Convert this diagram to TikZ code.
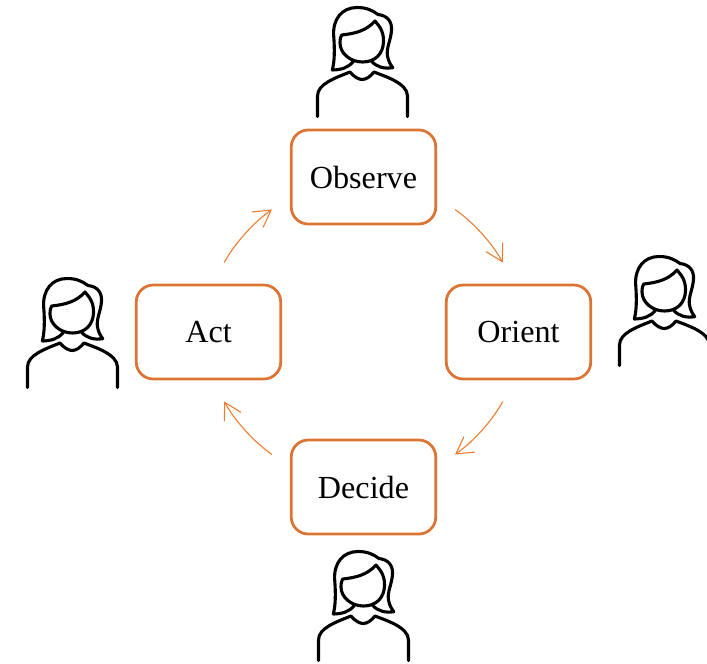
\documentclass[tikz,border=0pt]{standalone}
\usepackage{fontspec}
\setmainfont{Liberation Serif}
\usetikzlibrary{arrows.meta}
\definecolor{boxorange}{HTML}{DC7434}
\definecolor{floworange}{HTML}{ED7D31}
\tikzset{
  stagebox/.style={rectangle,draw=boxorange,line width=.55mm,rounded corners=3.4mm,minimum width=28.9mm,minimum height=18.8mm,inner sep=0pt,font=\fontsize{18.3}{22}\selectfont},
  flow/.style={draw=floworange,line width=.22mm,-{Straight Barb[length=3.3mm,width=3.8mm]},bend left=13},
  person/.pic={
    \draw[black,line width=.62mm,line join=round,line cap=round]
      (32.3,70) .. controls (34.5,62) and (34.8,50) .. (33.7,36) .. controls (32.5,19) and (42,7.5) .. (57,7.5)
      .. controls (66,7.5) and (72,10) .. (78,14.5) .. controls (87,15.5) and (92,21) .. (91.5,30)
      .. controls (91,40) and (86,48) .. (87.5,56) .. controls (88.5,62) and (91,65) .. (92.7,67.7)
      .. controls (84,69) and (77,67) .. (71.7,61.5)
      (32.3,70) .. controls (41,69.8) and (48,68) .. (53.3,61.5)
      (41.7,35) .. controls (55,33.5) and (66,31) .. (75,21) .. controls (78,25) and (84,30) .. (83.5,42)
      .. controls (83,54) and (75,62) .. (62.5,62) .. controls (50,62) and (40,53) .. (40,43)
      .. controls (40,39) and (40.5,37) .. (41.7,35)
      (17.5,116.5) -- (17.5,96) .. controls (17.5,84) and (35,78) .. (50,72)
      .. controls (54,77) and (59,79.5) .. (62,79.5) .. controls (66,79.5) and (70,77) .. (74,72)
      .. controls (84,76) and (107.5,83) .. (107.5,96) -- (107.5,116.5);
  }
}
\begin{document}
\begin{tikzpicture}[x=.2mm,y=-.2mm]
  \useasboundingbox (0,0) rectangle (707,663);
  \node[stagebox] (observe) at (363.5,177) {Observe};
  \node[stagebox] (orient) at (518.5,332) {Orient};
  \node[stagebox] (decide) at (363.5,487) {Decide};
  \node[stagebox] (act) at (208.5,332) {Act};

  \draw[flow,shorten <=4.8mm,shorten >=4.4mm] (act.85) to (observe.195);
  \draw[flow,shorten <=4.4mm,shorten >=4.8mm] (observe.345) to (orient.95);
  \draw[flow,shorten <=4.8mm,shorten >=4.4mm] (orient.265) to (decide.15);
  \draw[flow,shorten <=4.4mm,shorten >=4.8mm] (decide.165) to (act.275);

  \pic (topperson) at (300,0) {person};
  \pic (rightperson) at (602,249) {person};
  \pic (bottomperson) at (301,544) {person};
  \pic (leftperson) at (10,271) {person};
\end{tikzpicture}
\end{document}
